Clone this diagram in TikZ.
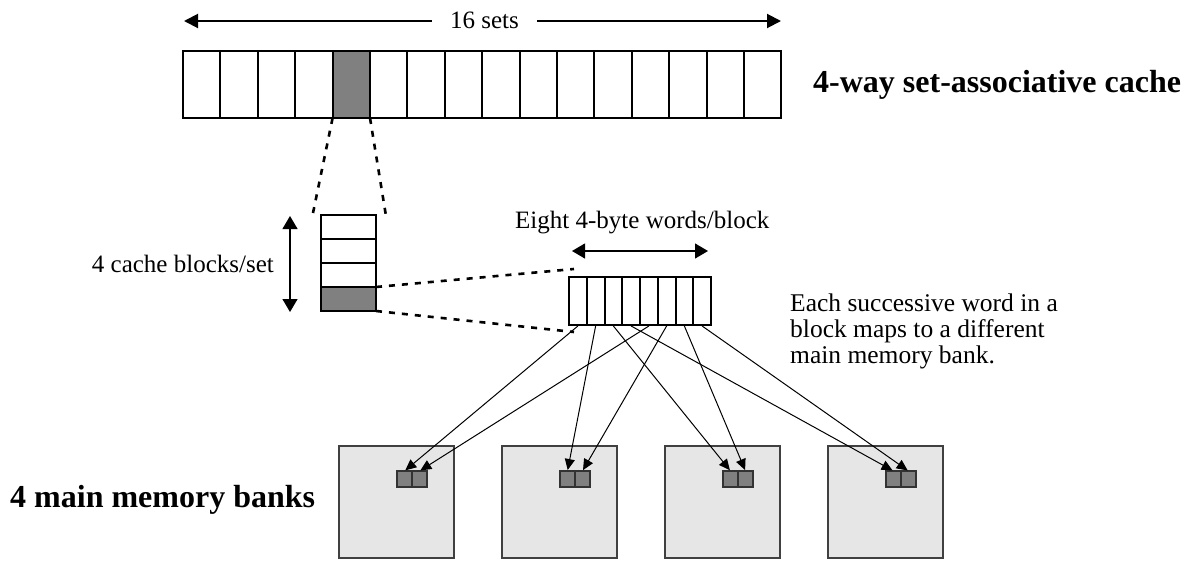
\documentclass[tikz,border=0pt]{standalone}
\usepackage{fontspec}
\setmainfont{Liberation Serif}
\usetikzlibrary{arrows.meta}
\definecolor{setgray}{HTML}{808080}
\definecolor{bankfill}{HTML}{E6E6E6}
\definecolor{bankline}{HTML}{404040}
\newcommand\plainfont{\fontsize{25}{21}\selectfont}
\newcommand\notefont{\fontsize{25.5}{26}\selectfont}
\newcommand\headfont{\bfseries\fontsize{32}{32}\selectfont}

\begin{document}
\begin{tikzpicture}[x=1pt,y=-1pt,
  setcell/.style={draw, line width=2pt, minimum width=37.4pt, minimum height=67pt, inner sep=0pt, outer sep=0pt},
  waycell/.style={draw, line width=2pt, minimum width=55pt, minimum height=24pt, inner sep=0pt, outer sep=0pt},
  wordcell/.style={draw, line width=2pt, minimum width=17.75pt, minimum height=48pt, inner sep=0pt, outer sep=0pt},
  bank/.style={draw=bankline, fill=bankfill, line width=1.1pt, minimum width=115pt, minimum height=112pt, inner sep=0pt, outer sep=0pt},
  slot/.style={draw=black!80, fill=setgray, line width=1.1pt, minimum width=15pt, minimum height=16pt, inner sep=0pt, outer sep=0pt},
  hi/.style={fill=setgray},
  zoomline/.style={line width=2.6pt, dash pattern=on 6pt off 7pt},
  spanarrow/.style={line width=2pt, -{Triangle[length=14pt,width=14pt]}},
  dimarrow/.style={line width=1.2pt, {Triangle[length=13pt,width=15pt]}-{Triangle[length=13pt,width=15pt]}},
  maparrow/.style={line width=1pt, -{Triangle[length=11pt,width=10pt]}, shorten >=1pt}]

\useasboundingbox (0,0) rectangle (1191,565);

% 16 sets of the cache
\foreach \i in {0,...,15}
  \node[setcell] (c\i) at ({183+37.4*\i+18.7}, 84.5) {};
\node[setcell, hi] (c4) at ({183+37.4*4+18.7}, 84.5) {};

% width label over the cache
\node[font=\plainfont, inner sep=0pt, minimum width=105pt, minimum height=20pt] (sets) at (484.5, 20) {16 sets};
\coordinate (setsl) at (184, 21);
\coordinate (setsr) at (781, 21);
\draw[spanarrow] (sets.west |- setsl) -- (setsl);
\draw[spanarrow] (sets.east |- setsr) -- (setsr);

\node[font=\headfont, anchor=base west, inner sep=0pt] (cachetitle) at (813, 92) {4-way set-associative cache};

% the four ways of one set
\foreach \j/\y in {0/227, 1/251, 2/275}
  \node[waycell] (r\j) at (348.5, \y) {};
\node[waycell, hi] (r3) at (348.5, 299) {};

\coordinate (zl) at (313, 213);
\coordinate (zr) at (386, 216);
\draw[zoomline] (c4.south west) -- (zl);
\draw[zoomline] (c4.south east) -- (zr);

\coordinate (wa) at (290, 216);
\coordinate (wb) at (290, 312);
\draw[dimarrow] (wa) -- (wb);
\node[font=\plainfont, anchor=base east, inner sep=0pt] (waylabel) at (274, 272) {4 cache blocks/set};

% the eight words of one block
\foreach \k in {0,...,7}
  \node[wordcell] (w\k) at ({569+17.75*\k+8.875}, 301) {};

\coordinate (bt) at (574, 269);
\coordinate (bb) at (574, 332);
\draw[zoomline] (r3.north east) -- (bt);
\draw[zoomline] (r3.south east) -- (bb);

\node[font=\plainfont, anchor=base west, inner sep=0pt] (wordlabel) at (515, 228) {Eight 4-byte words/block};
\coordinate (ba) at (572, 251);
\coordinate (bz) at (708, 251);
\draw[dimarrow] (ba) -- (bz);

\node[font=\notefont, anchor=north west, align=left, inner sep=0pt] (note) at (790, 294)
  {Each successive word in a\\block maps to a different\\main memory bank.};

% main memory banks
\foreach \b in {0,...,3} {
  \node[bank] (b\b) at ({339+163*\b+57.5}, 502) {};
  \node[slot] (m\b a) at ({339+163*\b+65.5}, 479) {};
  \node[slot] (m\b b) at ({339+163*\b+80.5}, 479) {};
}

\node[font=\headfont, anchor=base west, inner sep=0pt] (banktitle) at (10, 507) {4 main memory banks};

% word k goes to bank k mod 4
\foreach \k/\b/\s in {0/0/a, 1/1/a, 2/2/a, 3/3/a, 4/0/b, 5/1/b, 6/2/b, 7/3/b}
  \draw[maparrow] ([yshift=-1pt]w\k.south) -- (m\b\s.north);
\end{tikzpicture}
\end{document}
